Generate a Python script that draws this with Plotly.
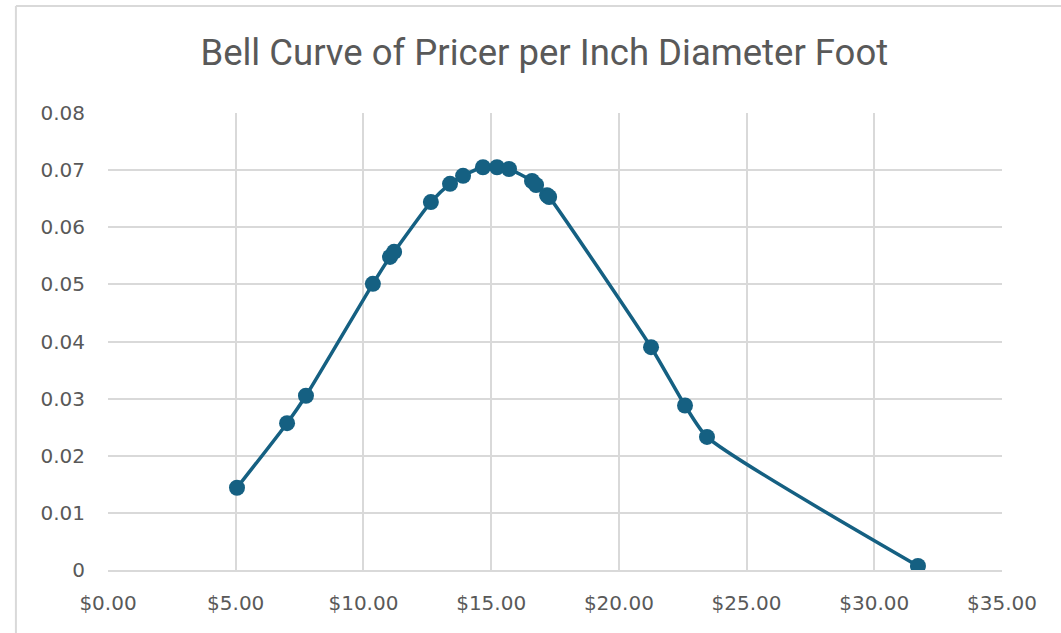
import plotly.graph_objects as go

price = [5.05, 7.01, 7.75, 10.37, 11.04, 11.20, 12.64, 13.39, 13.90, 14.68,
         15.23, 15.70, 16.60, 16.76, 17.19, 17.27, 21.26, 22.59, 23.45, 31.71]
density = [0.0144, 0.0257, 0.0305, 0.0501, 0.0548, 0.0557, 0.0644, 0.0676, 0.0690, 0.0705,
           0.0705, 0.0702, 0.0681, 0.0674, 0.0656, 0.0653, 0.0390, 0.0288, 0.0233, 0.0007]

title_text = "Bell Curve of Pricer per Inch Diameter Foot"
color = "#156082"
tick_font = dict(family="DejaVu Sans, Arial, sans-serif", size=20, color="#595959")

fig = go.Figure()
fig.add_trace(go.Scatter(
    x=price, y=density, mode="lines+markers",
    line=dict(color=color, width=3.5, shape="spline", smoothing=0.6),
    marker=dict(color=color, size=16),
    showlegend=False,
))

fig.update_layout(
    width=1061, height=633,
    paper_bgcolor="white", plot_bgcolor="white",
    margin=dict(l=108, r=59, t=113, b=63, autoexpand=False),
    title=dict(text=title_text, x=0.513, xanchor="center", y=0.918, yanchor="middle",
               font=dict(family="Roboto, Arial, sans-serif", size=36.5, color="#595959")),
    xaxis=dict(range=[0, 35], dtick=5, tickprefix="$", tickformat=".2f",
               showgrid=True, gridcolor="#d9d9d9", gridwidth=1.5,
               zeroline=False, showline=True, linecolor="#d9d9d9", linewidth=1.5,
               ticks="", ticklabelstandoff=14, automargin=False,
               tickfont=tick_font),
    yaxis=dict(range=[0, 0.08], dtick=0.01,
               showgrid=True, gridcolor="#d9d9d9", gridwidth=1.5,
               zeroline=False, showline=False,
               ticks="", ticklabelstandoff=22, automargin=False,
               tickfont=tick_font),
    shapes=[
        dict(type="line", xref="paper", yref="paper", x0=-0.103, x1=1.07, y0=1.234, y1=1.234,
             line=dict(color="#d9d9d9", width=2)),
        dict(type="line", xref="paper", yref="paper", x0=-0.103, x1=-0.103, y0=-0.14, y1=1.234,
             line=dict(color="#d9d9d9", width=2)),
    ],
)

fig.write_html("out.html", config={"displayModeBar": False},
               post_script="document.body.style.margin='0';")
